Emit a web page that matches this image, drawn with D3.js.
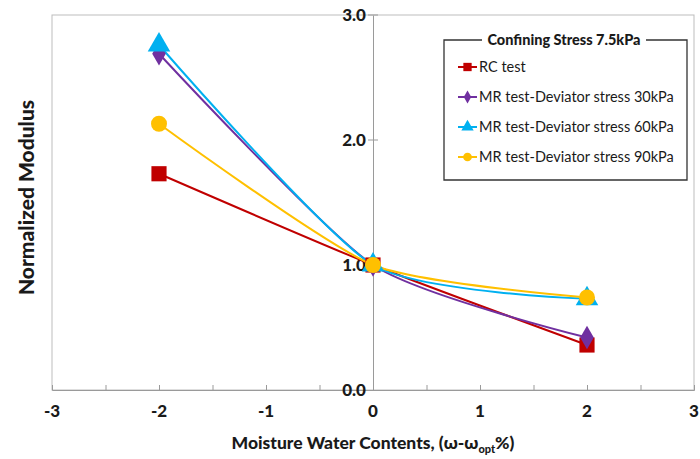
<!DOCTYPE html>
<html>
<head>
<meta charset="utf-8">
<script src="https://cdn.jsdelivr.net/npm/d3@7"></script>
<style>
  body { margin: 0; background: #fff; }
  text { font-family: Lato, "Open Sans", sans-serif; fill: #1a1a1a; }
</style>
</head>
<body>
<div id="chart"></div>
<script>
// 1: DATA
const xValues = [-2, 0, 2];
const seriesNames = [
    "RC test",
    "MR test-Deviator stress 30kPa",
    "MR test-Deviator stress 60kPa",
    "MR test-Deviator stress 90kPa"
];
const rcTest = [1.73, 1.0, 0.36];
const mr30 = [2.69, 1.0, 0.42];
const mr60 = [2.76, 1.0, 0.73];
const mr90 = [2.13, 1.0, 0.74];
const xTicks = [-3, -2, -1, 0, 1, 2, 3];
const yTicks = [0, 1, 2, 3];
const legendTitle = "Confining Stress 7.5kPa";

const colors = ["#c00000", "#7030a0", "#00b0f0", "#ffc000"];
const symbols = [d3.symbolSquare, d3.symbolDiamond, d3.symbolTriangle, d3.symbolCircle];
const symbolSizes = [230, 160, 220, 200];

const allSeries = [rcTest, mr30, mr60, mr90].map((vals, i) => ({
    name: seriesNames[i],
    values: vals.map((v, j) => ({ x: xValues[j], y: v }))
}));

// 2: SVG
const W = 700, H = 459;
const margin = { top: 15, right: 6, bottom: 69, left: 52 };
const width = W - margin.left - margin.right;
const height = H - margin.top - margin.bottom;

const svg = d3.select("#chart").append("svg")
    .attr("width", W)
    .attr("height", H);

const g = svg.append("g")
    .attr("transform", `translate(${margin.left},${margin.top})`);

// 3: SCALES
const xScale = d3.scaleLinear().domain([-3, 3]).range([0, width]);
const yScale = d3.scaleLinear().domain([0, 3]).range([height, 0]);

// plot frame
g.append("rect")
    .attr("width", width)
    .attr("height", height)
    .attr("fill", "none")
    .attr("stroke", "#bdbdbd")
    .attr("stroke-width", 1);

// 4: AXES
const xAxis = g.append("g")
    .attr("transform", `translate(0,${yScale(0)})`)
    .call(d3.axisBottom(xScale).tickValues(d3.range(-3, 3.01, 0.5)).tickSize(-5).tickFormat(""));
xAxis.select(".domain").attr("stroke", "#9a9a9a");
xAxis.selectAll(".tick line").attr("stroke", "#9a9a9a");

g.selectAll(".xlab")
    .data(xTicks)
    .enter()
    .append("text")
    .attr("class", "xlab")
    .attr("x", d => xScale(d))
    .attr("y", height + 27)
    .attr("text-anchor", "middle")
    .style("font-size", "17px")
    .style("font-weight", "900")
    .text(d => d < 0 ? "-" + Math.abs(d) : d);

const yAxis = g.append("g")
    .attr("transform", `translate(${xScale(0)},0)`)
    .call(d3.axisLeft(yScale).tickValues(yTicks).tickSize(0).tickFormat(""));
yAxis.select(".domain").attr("stroke", "#9a9a9a");

g.selectAll(".ytick")
    .data(yTicks.filter(d => d > 0))
    .enter()
    .append("line")
    .attr("class", "ytick")
    .attr("x1", xScale(0) - 5)
    .attr("x2", xScale(0) + 5)
    .attr("y1", d => yScale(d))
    .attr("y2", d => yScale(d))
    .attr("stroke", "#9a9a9a");

g.selectAll(".ylab")
    .data(yTicks)
    .enter()
    .append("text")
    .attr("class", "ylab")
    .attr("x", xScale(0) - 7)
    .attr("y", d => yScale(d))
    .attr("dy", "0.35em")
    .attr("text-anchor", "end")
    .style("font-size", "17px")
    .style("font-weight", "900")
    .text(d => d3.format(".1f")(d));

// 5: LINES + MARKERS
const line = d3.line()
    .x(d => xScale(d.x))
    .y(d => yScale(d.y))
    .curve(d3.curveCardinal.tension(0.35));

allSeries.forEach((s, i) => {
    g.append("path")
        .attr("d", line(s.values))
        .attr("fill", "none")
        .attr("stroke", colors[i])
        .attr("stroke-width", 2);
});

allSeries.forEach((s, i) => {
    g.selectAll(".pt" + i)
        .data(s.values)
        .enter()
        .append("path")
        .attr("class", "pt" + i)
        .attr("transform", d => `translate(${xScale(d.x)},${yScale(d.y)})`)
        .attr("d", d3.symbol().type(symbols[i]).size(symbolSizes[i]))
        .attr("fill", colors[i]);
});

// 6: AXIS TITLES
svg.append("text")
    .attr("transform", `translate(34,${margin.top + height / 2 - 5}) rotate(-90)`)
    .attr("text-anchor", "middle")
    .style("font-size", "21px")
    .style("font-weight", "900")
    .text("Normalized Modulus");

const xTitle = svg.append("text")
    .attr("x", margin.left + xScale(0))
    .attr("y", 449)
    .attr("text-anchor", "middle")
    .style("font-size", "17.5px")
    .style("font-weight", "900");
xTitle.append("tspan").text("Moisture Water Contents, (ω-ω");
xTitle.append("tspan").attr("dy", 4).style("font-size", "11px").text("opt");
xTitle.append("tspan").attr("dy", -4).text("%)");

// 7: LEGEND
const lg = svg.append("g").attr("transform", "translate(444,40)");
const lgW = 243, lgH = 140;
const titleGap = [38, 202];
lg.append("path")
    .attr("d", `M${titleGap[0]},0 H0 V${lgH} H${lgW} V0 H${titleGap[1]}`)
    .attr("fill", "none")
    .attr("stroke", "#333")
    .attr("stroke-width", 1.3);

lg.append("text")
    .attr("x", (titleGap[0] + titleGap[1]) / 2)
    .attr("y", 5)
    .attr("text-anchor", "middle")
    .style("font-size", "14.5px")
    .style("font-weight", "900")
    .text(legendTitle);

const items = lg.selectAll(".item")
    .data(allSeries)
    .enter()
    .append("g")
    .attr("class", "item")
    .attr("transform", (d, i) => `translate(0,${27 + i * 30})`);

items.append("line")
    .attr("x1", 14)
    .attr("x2", 33)
    .attr("stroke", (d, i) => colors[i])
    .attr("stroke-width", 2);

items.append("path")
    .attr("transform", "translate(23.5,0)")
    .attr("d", (d, i) => d3.symbol().type(symbols[i]).size(symbolSizes[i] * 0.3)())
    .attr("fill", (d, i) => colors[i]);

items.append("text")
    .attr("x", 35)
    .attr("dy", "0.35em")
    .style("font-size", "14.5px")
    .text(d => d.name);
</script>
</body>
</html>
